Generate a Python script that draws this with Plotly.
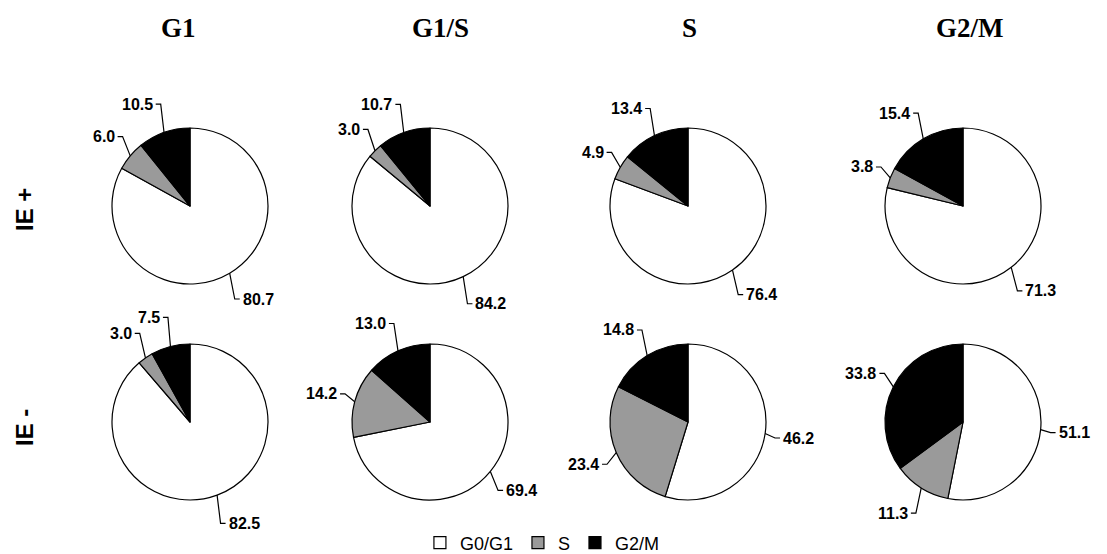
import math
import plotly.graph_objects as go

W, H = 1107, 554

phases = ["G0/G1", "S", "G2/M"]
columns = ["G1", "G1/S", "S", "G2/M"]
rows = ["IE +", "IE -"]

g0g1_ie_plus = [80.7, 84.2, 76.4, 71.3]
s_ie_plus = [6.0, 3.0, 4.9, 3.8]
g2m_ie_plus = [10.5, 10.7, 13.4, 15.4]

g0g1_ie_minus = [82.5, 69.4, 46.2, 51.1]
s_ie_minus = [3.0, 14.2, 23.4, 11.3]
g2m_ie_minus = [7.5, 13.0, 14.8, 33.8]

colors = ["#ffffff", "#9a9a9a", "#000000"]

# layout geometry (pixels)
col_cx = [190, 430, 688, 963]
row_cy = [206, 422]
title_cx = [178, 440, 689, 970]
row_label_cy = [210, 428]
R = 78
LEAD_X, LEAD_Y, ELBOW = 10, 30, 5

data_rows = [
    (g0g1_ie_plus, s_ie_plus, g2m_ie_plus),
    (g0g1_ie_minus, s_ie_minus, g2m_ie_minus),
]

fig = go.Figure()
annotations = []
shapes = []

def px(x):
    return x / W

def py(y):
    return 1 - y / H

label_font = dict(family="Liberation Sans Narrow, Arial Narrow, Liberation Sans, Arial", size=16, color="black")

for ri, (a, b, c) in enumerate(data_rows):
    for ci in range(4):
        vals = [a[ci], b[ci], c[ci]]
        cx, cy = col_cx[ci], row_cy[ri]
        fig.add_trace(go.Pie(
            labels=phases, values=vals, sort=False, direction="clockwise", rotation=0,
            marker=dict(colors=colors, line=dict(color="black", width=1.2)),
            textinfo="none", hoverinfo="label+value",
            showlegend=(ri == 0 and ci == 0),
            domain=dict(x=[px(cx - R), px(cx + R)], y=[py(cy + R), py(cy - R)]),
        ))
        tot = sum(vals)
        start = 0.0
        for v in vals:
            ang = start + v / tot * 360 / 2
            start += v / tot * 360
            th = math.radians(ang)
            sx, sy = math.sin(th), -math.cos(th)
            p0 = (cx + R * sx, cy + R * sy)
            p1 = (p0[0] + LEAD_X * sx, p0[1] + LEAD_Y * sy)
            side = 1 if sx >= 0 else -1
            p2 = (p1[0] + side * ELBOW, p1[1])
            shapes.append(dict(
                type="path", xref="paper", yref="paper",
                path=f"M {px(p0[0])} {py(p0[1])} L {px(p1[0])} {py(p1[1])} L {px(p2[0])} {py(p2[1])}",
                line=dict(color="black", width=1.2),
            ))
            annotations.append(dict(
                x=px(p2[0]), y=py(p2[1]), xref="paper", yref="paper",
                text=f"<b>{v:.1f}</b>", showarrow=False,
                xanchor="left" if side > 0 else "right", yanchor="middle",
                font=label_font, xshift=side * 1,
            ))

for ci, t in enumerate(columns):
    annotations.append(dict(
        x=px(title_cx[ci]), y=py(28), xref="paper", yref="paper",
        text=f"<b>{t}</b>", showarrow=False, xanchor="center", yanchor="middle",
        font=dict(family="Liberation Serif, DejaVu Serif, serif", size=27, color="black"),
    ))

for ri, t in enumerate(rows):
    annotations.append(dict(
        x=px(24), y=py(row_label_cy[ri]), xref="paper", yref="paper",
        text=f"<b>{t}</b>", showarrow=False, textangle=-90,
        xanchor="center", yanchor="middle",
        font=dict(family="Liberation Sans, Arial, sans-serif", size=24, color="black"),
    ))

fig.update_layout(
    width=W, height=H,
    margin=dict(l=0, r=0, t=0, b=0, autoexpand=False),
    paper_bgcolor="white", plot_bgcolor="white",
    annotations=annotations, shapes=shapes,
    legend=dict(orientation="h", x=0.49, xanchor="center", y=py(543), yanchor="middle",
                font=dict(family="Liberation Sans, Arial, sans-serif", size=18, color="black"),
                itemwidth=30, traceorder="normal", bgcolor="rgba(0,0,0,0)"),
)

fig.write_html(
    "out.html",
    config={"displayModeBar": False},
    post_script="document.body.style.margin='0';document.body.style.overflow='hidden';",
)
